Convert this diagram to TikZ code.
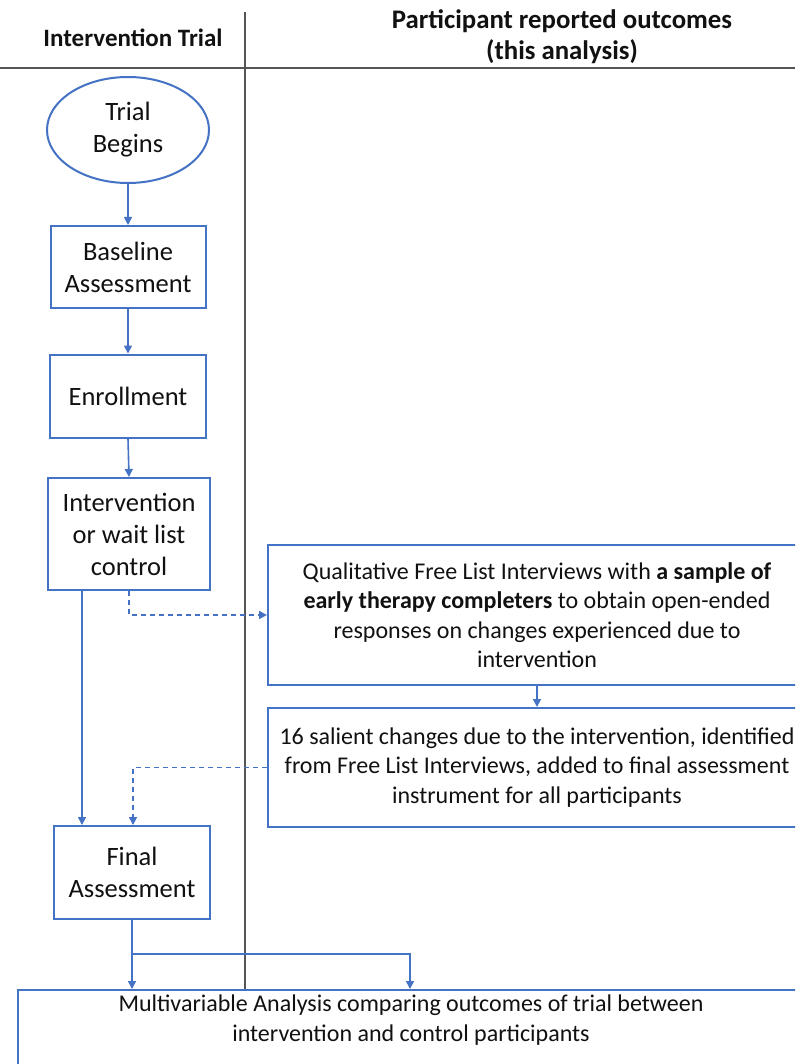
\documentclass[tikz,border=0pt]{standalone}
\usepackage{fontspec}
\setmainfont{Carlito}
\usetikzlibrary{arrows.meta,shapes.geometric,positioning}
\definecolor{boxblue}{HTML}{4472C4}
\definecolor{linegray}{HTML}{555555}
\definecolor{txt}{HTML}{111111}
\tikzset{
  flowbox/.style={draw=boxblue,line width=2pt,rectangle,inner sep=0pt,align=center,text=txt,font=\fontsize{26.5}{32}\selectfont},
  widebox/.style={draw=boxblue,line width=2pt,rectangle,inner sep=0pt,align=center,text=txt,font=\fontsize{24}{29.5}\selectfont},
  startshape/.style={draw=boxblue,line width=2pt,ellipse,inner sep=0pt,align=center,text=txt,font=\fontsize{26.5}{32}\selectfont},
  hdr/.style={align=center,text=txt,font=\bfseries\fontsize{25}{30}\selectfont,inner sep=0pt},
  hdrbig/.style={hdr,font=\bfseries\fontsize{26.8}{31}\selectfont},
  conn/.style={draw=boxblue,line width=1.6pt,-{Triangle[length=8pt,width=8pt]}},
  dconn/.style={conn,dash pattern=on 5pt off 4pt},
  sep/.style={draw=linegray,line width=2pt}
}
\begin{document}
\begin{tikzpicture}[x=1pt,y=-1pt]
\useasboundingbox (0,0) rectangle (795,1064);
\clip (0,0) rectangle (795,1064);
\fill[white] (0,0) rectangle (795,1064);
% headers
\node[hdr] (hdrL) at (133,38) {Intervention Trial};
\node[hdrbig] (hdrR) at (562,37) {Participant reported outcomes\\(this analysis)};
% nodes
\node[startshape,minimum width=162pt,minimum height=106pt] (start) at (128,130) {Trial\\Begins};
\node[flowbox,minimum width=155pt,minimum height=82pt] (base) at (128,267) {Baseline\\Assessment};
\node[flowbox,minimum width=156pt,minimum height=83pt] (enr) at (128,396) {Enrollment};
\node[flowbox,minimum width=162pt,minimum height=112pt] (intv) at (129,534) {Intervention\\or wait list\\control};
\node[widebox,minimum width=538pt,minimum height=140pt] (qual) at (537,615) {Qualitative Free List Interviews with \textbf{a sample of}\\\textbf{early therapy completers} to obtain open-ended\\responses on changes experienced due to\\intervention};
\node[widebox,minimum width=538pt,minimum height=119pt] (sal) at (537,767.5) {16 salient changes due to the intervention, identified\\from Free List Interviews, added to final assessment\\instrument for all participants};
\node[flowbox,minimum width=156pt,minimum height=93pt] (final) at (132,872.5) {Final\\Assessment};
\node[draw=boxblue,line width=2pt,rectangle,minimum width=786pt,minimum height=90pt,inner sep=0pt] (multi) at (411,1035) {};
\node[widebox,draw=none,inner sep=0pt] (multitext) at (411,1020) {Multivariable Analysis comparing outcomes of trial between\\intervention and control participants};
% separator lines
\coordinate (vtop) at (245,12);
\coordinate (hl) at (0,68);
\coordinate (hr) at (795,68);
\draw[sep] (hl) -- (hr);
\draw[sep] (vtop) -- (vtop |- multi.north);
% connectors
\draw[conn] (start.south) -- (base.north);
\draw[conn] (base.south) -- (enr.north);
\draw[conn] (enr.south) -- (intv.north);
\coordinate (solidtop) at ([xshift=-47pt]intv.south);
\draw[conn] (solidtop) -- (solidtop |- final.north);
\draw[dconn] (intv.south) |- (qual.west);
\draw[conn] (qual.south) -- (sal.north);
\draw[dconn] (sal.west) -| ([xshift=1pt]final.north);
\draw[conn] (final.south) -- (final.south |- multi.north);
\coordinate (branch) at (final.south |- 0,954);
\coordinate (branchR) at (410,954);
\draw[conn] (branch) -- (branchR) -- (branchR |- multi.north);
\end{tikzpicture}
\end{document}
